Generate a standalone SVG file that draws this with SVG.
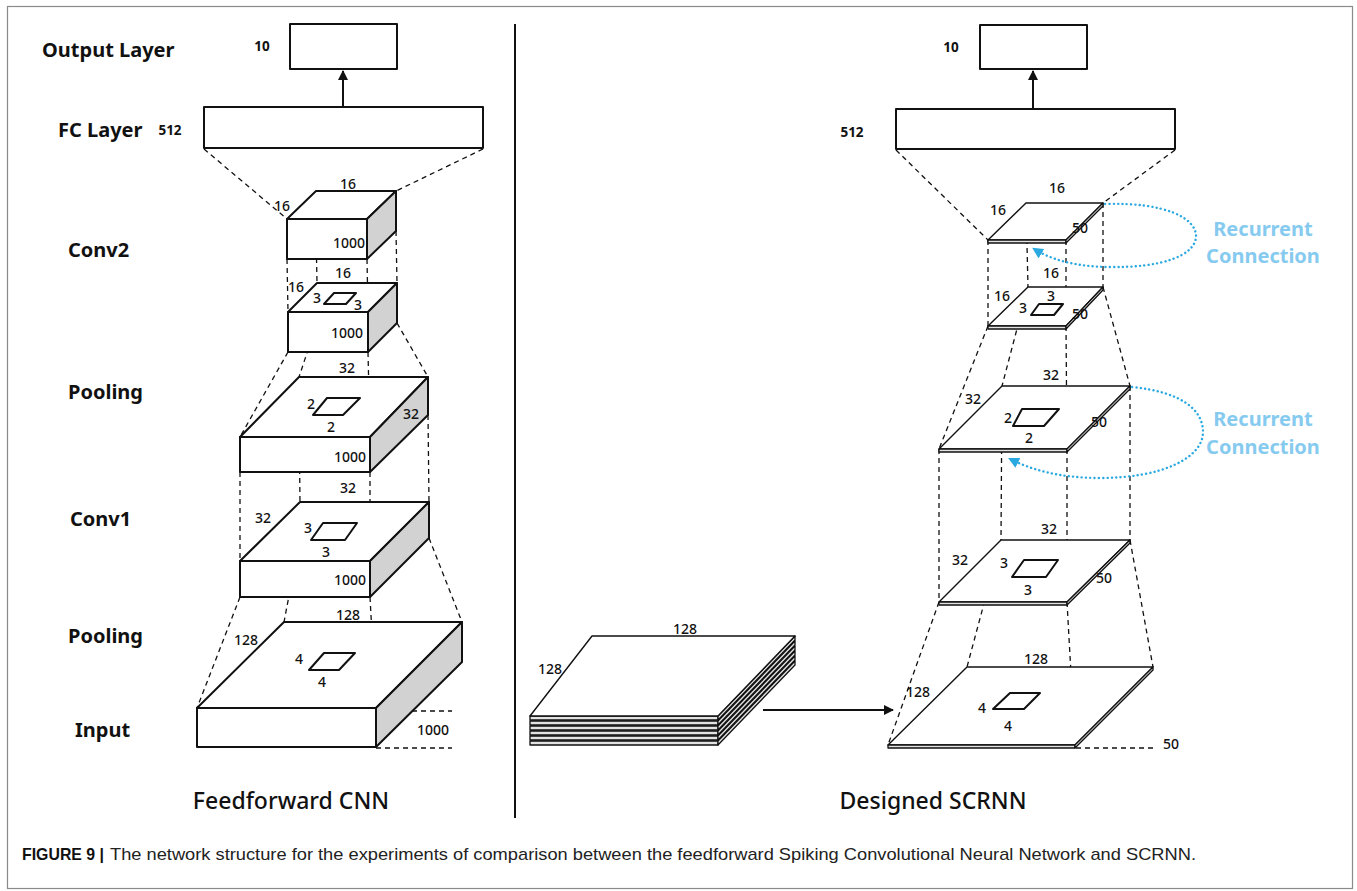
<svg xmlns="http://www.w3.org/2000/svg" width="1357" height="891" viewBox="0 0 1357 891">
<defs>
<style>
.lbl{font-family:"Noto Sans","DejaVu Sans",sans-serif;font-weight:bold;font-size:20px;fill:#111}
.dim{font-family:"Noto Sans","DejaVu Sans",sans-serif;font-weight:500;font-size:14px;fill:#111;text-anchor:middle;dominant-baseline:central}
.num{font-family:"Noto Sans","DejaVu Sans",sans-serif;font-weight:bold;font-size:13.5px;fill:#111;text-anchor:middle;dominant-baseline:central}
.title{font-family:"Noto Sans","DejaVu Sans",sans-serif;font-weight:500;font-size:23px;fill:#111;text-anchor:middle}
.rec{font-family:"Noto Sans","DejaVu Sans",sans-serif;font-weight:bold;font-size:20px;fill:#86cbef;text-anchor:middle;dominant-baseline:central}
.box{fill:#fff;stroke:#111;stroke-width:2;stroke-linejoin:round}
.side{fill:#d2d2d2;stroke:#111;stroke-width:2;stroke-linejoin:round}
.win{fill:none;stroke:#111;stroke-width:2;stroke-linejoin:round}
.top{fill:#fff;stroke:#111;stroke-width:1.4;stroke-linejoin:round}
.strip{fill:#e2e2e2;stroke:#111;stroke-width:1.3;stroke-linejoin:round}
.dash{fill:none;stroke:#111;stroke-width:1.3;stroke-dasharray:5 4}
.arr{fill:none;stroke:#111;stroke-width:2}
.dot{fill:none;stroke:#2aa8e0;stroke-width:2.4;stroke-dasharray:0.1 4.2;stroke-linecap:round}
</style>
<marker id="ah" viewBox="0 0 10 10" refX="9" refY="5" markerWidth="5" markerHeight="5" orient="auto" markerUnits="strokeWidth">
<path d="M0,0 L10,5 L0,10 z" fill="#111"/>
</marker>
<marker id="bh" viewBox="0 0 10 10" refX="8" refY="5" markerWidth="11" markerHeight="11" orient="auto" markerUnits="userSpaceOnUse">
<path d="M0,0 L10,5 L0,10 z" fill="#2aa8e0"/>
</marker>
</defs>
<rect x="0" y="0" width="1357" height="891" fill="#fff"/>
<rect x="7.5" y="6.5" width="1345" height="882" fill="none" stroke="#8a8a8a" stroke-width="1.2"/>
<line x1="515" y1="24" x2="515" y2="818" stroke="#111" stroke-width="2"/>

<g id="connectors">
<line class="arr" x1="343" y1="107" x2="343" y2="71" marker-end="url(#ah)"/>
<line class="dash" x1="204" y1="149" x2="287" y2="219"/>
<line class="dash" x1="483" y1="149" x2="396" y2="191"/>
<line class="dash" x1="287" y1="259" x2="288" y2="312"/>
<line class="dash" x1="316" y1="231" x2="317" y2="283"/>
<line class="dash" x1="367" y1="259" x2="368" y2="312"/>
<line class="dash" x1="396" y1="231" x2="397" y2="283"/>
<line class="dash" x1="288" y1="352" x2="240" y2="437"/>
<line class="dash" x1="317" y1="323" x2="299" y2="377"/>
<line class="dash" x1="368" y1="352" x2="370" y2="437"/>
<line class="dash" x1="397" y1="323" x2="428" y2="377"/>
<line class="dash" x1="240" y1="472" x2="240" y2="561"/>
<line class="dash" x1="299" y1="415" x2="300" y2="502"/>
<line class="dash" x1="370" y1="472" x2="370" y2="561"/>
<line class="dash" x1="428" y1="415" x2="429" y2="502"/>
<line class="dash" x1="240" y1="597" x2="197" y2="708"/>
<line class="dash" x1="300" y1="538" x2="284" y2="622"/>
<line class="dash" x1="370" y1="597" x2="376" y2="708"/>
<line class="dash" x1="429" y1="538" x2="462" y2="622"/>
<line class="dash" x1="376" y1="711" x2="452" y2="711"/>
<line class="dash" x1="376" y1="748" x2="452" y2="748"/>
<line class="arr" x1="1033" y1="108" x2="1033" y2="71" marker-end="url(#ah)"/>
<line class="dash" x1="896" y1="150" x2="988" y2="240"/>
<line class="dash" x1="1175" y1="150" x2="1103" y2="203"/>
<line class="dash" x1="988" y1="240" x2="988" y2="326"/>
<line class="dash" x1="1026" y1="203" x2="1028" y2="287"/>
<line class="dash" x1="1066" y1="240" x2="1066" y2="326"/>
<line class="dash" x1="1103" y1="203" x2="1103" y2="287"/>
<line class="dash" x1="988" y1="326" x2="939" y2="449"/>
<line class="dash" x1="1028" y1="287" x2="1002" y2="386"/>
<line class="dash" x1="1066" y1="326" x2="1067" y2="449"/>
<line class="dash" x1="1103" y1="287" x2="1130" y2="386"/>
<line class="dash" x1="939" y1="449" x2="939" y2="602"/>
<line class="dash" x1="1002" y1="386" x2="1001" y2="540"/>
<line class="dash" x1="1067" y1="449" x2="1067" y2="602"/>
<line class="dash" x1="1130" y1="386" x2="1130" y2="540"/>
<line class="dash" x1="939" y1="602" x2="888" y2="745"/>
<line class="dash" x1="1001" y1="540" x2="967" y2="667"/>
<line class="dash" x1="1067" y1="602" x2="1075" y2="745"/>
<line class="dash" x1="1130" y1="540" x2="1153" y2="667"/>
<line class="dash" x1="1076" y1="748" x2="1153" y2="748"/>
<line class="arr" x1="763" y1="710" x2="893" y2="710" marker-end="url(#ah)"/>
</g>

<g id="cnn-output">
<rect class="box" x="290" y="24" width="107" height="45"/>
<text class="num" x="262" y="46">10</text>
<text class="lbl" x="42" y="57">Output Layer</text>
</g>
<g id="cnn-fc">
<rect class="box" x="204" y="107" width="279" height="41"/>
<text class="num" x="170" y="130">512</text>
<text class="lbl" x="58" y="137">FC Layer</text>
</g>
<g id="cnn-conv2">
<polygon class="box" points="287,219 316,191 396,191 367,219"/>
<rect class="box" x="287" y="219" width="80" height="40"/>
<polygon class="side" points="367,219 396,191 396,231 367,259"/>
<text class="dim" x="348" y="183">16</text>
<text class="dim" x="282" y="205">16</text>
<text class="dim" x="349" y="242">1000</text>
<text class="lbl" x="68" y="257">Conv2</text>
</g>
<g id="cnn-conv2b">
<polygon class="box" points="288,312 317,283 397,283 368,312"/>
<rect class="box" x="288" y="312" width="80" height="40"/>
<polygon class="side" points="368,312 397,283 397,323 368,352"/>
<polygon class="win" points="324,304 334,293 356,293 346,304"/>
<text class="dim" x="343" y="272">16</text>
<text class="dim" x="296" y="286">16</text>
<text class="dim" x="317" y="297">3</text>
<text class="dim" x="358" y="304">3</text>
<text class="dim" x="347" y="332">1000</text>
</g>
<g id="cnn-pool2">
<polygon class="box" points="240,437 299,377 428,377 370,437"/>
<rect class="box" x="240" y="437" width="130" height="35"/>
<polygon class="side" points="370,437 428,377 428,415 370,472"/>
<polygon class="win" points="313,415 327,398 360,398 343,415"/>
<text class="dim" x="347" y="367">32</text>
<text class="dim" x="311" y="403">2</text>
<text class="dim" x="331" y="426">2</text>
<text class="dim" x="411" y="413">32</text>
<text class="dim" x="350" y="456">1000</text>
<text class="lbl" x="68" y="399">Pooling</text>
</g>
<g id="cnn-conv1">
<polygon class="box" points="240,561 300,502 429,502 370,561"/>
<rect class="box" x="240" y="561" width="130" height="36"/>
<polygon class="side" points="370,561 429,502 429,538 370,597"/>
<polygon class="win" points="311,540 323,523 357,523 345,540"/>
<text class="dim" x="348" y="487">32</text>
<text class="dim" x="263" y="517">32</text>
<text class="dim" x="308" y="527">3</text>
<text class="dim" x="326" y="551">3</text>
<text class="dim" x="350" y="579">1000</text>
<text class="lbl" x="70" y="526">Conv1</text>
</g>
<g id="cnn-input">
<polygon class="box" points="197,708 284,622 462,622 376,708"/>
<rect class="box" x="197" y="708" width="179" height="39"/>
<polygon class="side" points="376,708 462,622 462,662 376,747"/>
<polygon class="win" points="309,670 324,653 355,653 339,670"/>
<text class="dim" x="348" y="614">128</text>
<text class="dim" x="246" y="639">128</text>
<text class="dim" x="299" y="658">4</text>
<text class="dim" x="322" y="681">4</text>
<text class="dim" x="433" y="729">1000</text>
<text class="lbl" x="68" y="643">Pooling</text>
<text class="lbl" x="75" y="737">Input</text>
</g>

<g id="scrnn-output">
<rect class="box" x="980" y="25" width="107" height="44"/>
<text class="num" x="951" y="47">10</text>
</g>
<g id="scrnn-fc">
<rect class="box" x="896" y="109" width="279" height="40"/>
<text class="num" x="852" y="132">512</text>
</g>
<g id="scrnn-conv2">
<polygon class="top" points="988,240 1026,203 1103,203 1066,240"/>
<rect class="strip" x="988" y="240" width="78" height="3"/>
<polygon class="strip" points="1066,240 1103,203 1103,206 1066,243"/>
<text class="dim" x="1057" y="187">16</text>
<text class="dim" x="998" y="209">16</text>
<text class="dim" x="1080" y="227">50</text>
</g>
<g id="scrnn-conv2b">
<polygon class="top" points="988,326 1028,287 1103,287 1066,326"/>
<rect class="strip" x="988" y="326" width="78" height="3"/>
<polygon class="strip" points="1066,326 1103,287 1103,290 1066,329"/>
<polygon class="win" points="1031,315 1039,304 1063,304 1054,315"/>
<text class="dim" x="1051" y="272">16</text>
<text class="dim" x="1002" y="295">16</text>
<text class="dim" x="1051" y="295">3</text>
<text class="dim" x="1023" y="307">3</text>
<text class="dim" x="1080" y="313">50</text>
</g>
<g id="scrnn-pool2">
<polygon class="top" points="939,449 1002,386 1130,386 1067,449"/>
<rect class="strip" x="939" y="449" width="128" height="3"/>
<polygon class="strip" points="1067,449 1130,386 1130,389 1067,452"/>
<polygon class="win" points="1013,426 1022,409 1059,409 1044,426"/>
<text class="dim" x="1051" y="374">32</text>
<text class="dim" x="973" y="398">32</text>
<text class="dim" x="1008" y="417">2</text>
<text class="dim" x="1029" y="437">2</text>
<text class="dim" x="1099" y="421">50</text>
</g>
<g id="scrnn-conv1">
<polygon class="top" points="939,602 1001,540 1130,540 1067,602"/>
<rect class="strip" x="939" y="602" width="128" height="3"/>
<polygon class="strip" points="1067,602 1130,540 1130,543 1067,605"/>
<polygon class="win" points="1012,577 1024,560 1058,560 1046,577"/>
<text class="dim" x="1049" y="528">32</text>
<text class="dim" x="960" y="559">32</text>
<text class="dim" x="1004" y="562">3</text>
<text class="dim" x="1028" y="589">3</text>
<text class="dim" x="1104" y="577">50</text>
</g>
<g id="scrnn-input">
<polygon class="top" points="888,745 967,667 1153,667 1075,745"/>
<rect class="strip" x="888" y="745" width="187" height="3"/>
<polygon class="strip" points="1075,745 1153,667 1153,670 1075,748"/>
<polygon class="win" points="993,709 1010,693 1040,693 1024,709"/>
<text class="dim" x="1036" y="658">128</text>
<text class="dim" x="918" y="691">128</text>
<text class="dim" x="982" y="707">4</text>
<text class="dim" x="1008" y="725">4</text>
<text class="dim" x="1171" y="743">50</text>
</g>
<g id="spike-input-stack">
<rect class="strip" x="530" y="741" width="188" height="4"/>
<polygon class="strip" points="718,741 795,661 795,665 718,745"/>
<rect class="strip" x="530" y="736" width="188" height="4"/>
<polygon class="strip" points="718,736 795,656 795,660 718,740"/>
<rect class="strip" x="530" y="731" width="188" height="4"/>
<polygon class="strip" points="718,731 795,651 795,655 718,735"/>
<rect class="strip" x="530" y="726" width="188" height="4"/>
<polygon class="strip" points="718,726 795,646 795,650 718,730"/>
<rect class="strip" x="530" y="721" width="188" height="4"/>
<polygon class="strip" points="718,721 795,641 795,645 718,725"/>
<rect class="strip" x="530" y="716" width="188" height="4"/>
<polygon class="strip" points="718,716 795,636 795,640 718,720"/>
<polygon class="top" points="530,716 592,636 795,636 718,716"/>
<text class="dim" x="685" y="628">128</text>
<text class="dim" x="550" y="668">128</text>
</g>
<g id="recurrent-1">
<path class="dot" d="M1105,204 C1165,202 1196,218 1196,236 C1196,256 1160,268 1110,267 C1075,267 1050,259 1034,249" marker-end="url(#bh)"/>
<text class="rec" x="1263" y="228">Recurrent</text>
<text class="rec" x="1263" y="255">Connection</text>
</g>
<g id="recurrent-2">
<path class="dot" d="M1132,387 C1182,392 1203,410 1203,432 C1203,458 1162,478 1100,478 C1058,478 1030,469 1010,459" marker-end="url(#bh)"/>
<text class="rec" x="1263" y="418">Recurrent</text>
<text class="rec" x="1263" y="446">Connection</text>
</g>

<text class="title" x="291" y="809">Feedforward CNN</text>
<text class="title" x="933" y="809">Designed SCRNN</text>
<text x="22" y="860" font-family="Liberation Sans, Arial, sans-serif" font-size="16.5" font-weight="bold" fill="#111" textLength="82" lengthAdjust="spacingAndGlyphs">FIGURE 9 |</text>
<text x="110" y="860" font-family="Liberation Sans, Arial, sans-serif" font-size="17" fill="#222" textLength="1086" lengthAdjust="spacingAndGlyphs">The network structure for the experiments of comparison between the feedforward Spiking Convolutional Neural Network and SCRNN.</text>
</svg>
